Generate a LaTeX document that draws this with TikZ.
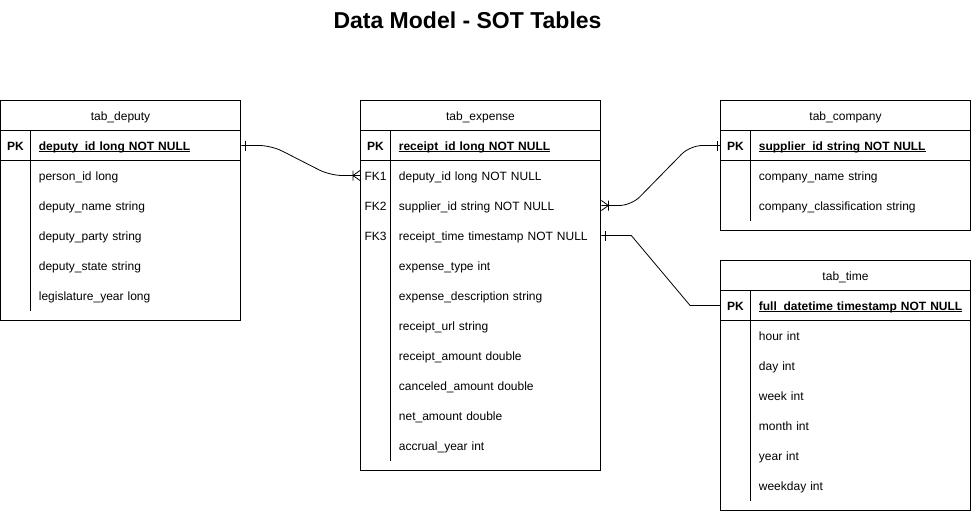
\documentclass[tikz,border=0pt]{standalone}
\usepackage{fontspec}
\setmainfont{Liberation Sans}
\usetikzlibrary{decorations.markings}
\newcommand\pkline[1]{\setbox0\hbox{#1}\rlap{\rule[-1.8pt]{\wd0}{0.7pt}}\box0}
\tikzset{
 hd/.style={text height=10.5pt,text depth=1.5pt,font=\fontsize{12}{14}\selectfont},
 kcol/.style={minimum width=30pt,minimum height=30pt,inner sep=0pt,text height=10.5pt,text depth=1.5pt,font=\fontsize{12}{14}\selectfont},
 pkcol/.style={kcol,font=\fontsize{12}{14}\selectfont\bfseries},
 fld/.style={anchor=west,inner xsep=0pt,text width=#1,align=left,text height=10.5pt,text depth=1.5pt,font=\fontsize{12}{14}\selectfont},
 pfld/.style={fld=#1,font=\fontsize{12}{14}\selectfont\bfseries},
 erone/.style={postaction={decorate,decoration={markings,mark=at position #1 with {\draw[sharp corners] (0pt,-5pt)--(0pt,5pt);}}}},
 ermany/.style={postaction={decorate,decoration={markings,mark=at position 0.1pt with {\draw[sharp corners] (0pt,-5pt)--(7pt,0pt)--(0pt,5pt) (7pt,-5pt)--(7pt,5pt);}}}}
}
\begin{document}
\begin{tikzpicture}[x=1pt,y=-1pt,line width=0.8pt]
\useasboundingbox (-0.5,-0.5) rectangle (970.5,511.5);
\node[font=\fontsize{23}{27}\selectfont\bfseries,anchor=base] (title) at (467,28) {Data Model - SOT Tables};
\draw (0,100) rectangle (240,320) (0,130)--(240,130) (0,160)--(240,160) (30,130)--(30,310);
\node[hd] (dh) at (120,115) {tab\_deputy};
\node[pkcol] (dk) at (15,145) {PK};\node[pfld=202] (dpk) at (38,145) {\pkline{deputy\_id long NOT NULL}};
\node[fld=202] (d1) at (38,175) {person\_id long};
\node[fld=202] (d2) at (38,205) {deputy\_name string};
\node[fld=202] (d3) at (38,235) {deputy\_party string};
\node[fld=202] (d4) at (38,265) {deputy\_state string};
\node[fld=202] (d5) at (38,295) {legislature\_year long};
\draw (360,100) rectangle (600,470) (360,130)--(600,130) (360,160)--(600,160) (390,130)--(390,460);
\node[hd] (eh) at (480,115) {tab\_expense};
\node[pkcol] (ek) at (375,145) {PK};\node[pfld=202] (epk) at (398,145) {\pkline{receipt\_id long NOT NULL}};
\node[kcol] (ek1) at (375,175) {FK1};\node[fld=202] (e1) at (398,175) {deputy\_id long NOT NULL};
\node[kcol] (ek2) at (375,205) {FK2};\node[fld=202] (e2) at (398,205) {supplier\_id string NOT NULL};
\node[kcol] (ek3) at (375,235) {FK3};\node[fld=202] (e3) at (398,235) {receipt\_time timestamp NOT NULL};
\node[fld=202] (e4) at (398,265) {expense\_type int};
\node[fld=202] (e5) at (398,295) {expense\_description string};
\node[fld=202] (e6) at (398,325) {receipt\_url string};
\node[fld=202] (e7) at (398,355) {receipt\_amount double};
\node[fld=202] (e8) at (398,385) {canceled\_amount double};
\node[fld=202] (e9) at (398,415) {net\_amount double};
\node[fld=202] (e10) at (398,445) {accrual\_year int};
\draw (720,100) rectangle (970,230) (720,130)--(970,130) (720,160)--(970,160) (750,130)--(750,220);
\node[hd] (ch) at (845,115) {tab\_company};
\node[pkcol] (ck) at (735,145) {PK};\node[pfld=212] (cpk) at (758,145) {\pkline{supplier\_id string NOT NULL}};
\node[fld=212] (c1) at (758,175) {company\_name string};
\node[fld=212] (c2) at (758,205) {company\_classification string};
\draw (720,260) rectangle (970,510) (720,290)--(970,290) (720,320)--(970,320) (750,290)--(750,500);
\node[hd] (th) at (845,275) {tab\_time};
\node[pkcol] (tk) at (735,305) {PK};\node[pfld=212] (tpk) at (758,305) {\pkline{full\_datetime timestamp NOT NULL}};
\node[fld=212] (t1) at (758,335) {hour int};
\node[fld=212] (t2) at (758,365) {day int};
\node[fld=212] (t3) at (758,395) {week int};
\node[fld=212] (t4) at (758,425) {month int};
\node[fld=212] (t5) at (758,455) {year int};
\node[fld=212] (t6) at (758,485) {weekday int};
\draw[ermany,erone=-4pt,rounded corners=12pt] (ek1.west)--++(-30,0)--([xshift=30pt]dpk.east)--(dpk.east);
\draw[ermany,erone=-3pt,rounded corners=12pt] (e2.east)--++(30,0)--([xshift=-30pt]ck.west)--(ck.west);
\draw[erone=4pt] (e3.east)--++(30,0)--([xshift=-30pt]tk.west)--(tk.west);
\end{tikzpicture}
\end{document}
